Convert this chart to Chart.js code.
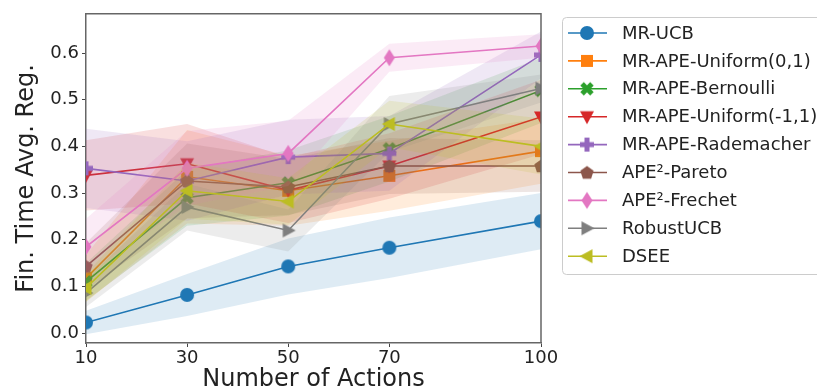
<!DOCTYPE html>
<html>
<head>
<meta charset="utf-8">
<script src="https://cdn.jsdelivr.net/npm/chart.js@4.4.0/dist/chart.umd.min.js"></script>
<style>
  body { margin: 0; background: #fff; }
  #wrap { width: 817px; height: 391px; }
</style>
</head>
<body>
<div id="wrap"><canvas id="chart" width="817" height="391"></canvas></div>
<script>
// x values (number of actions) and axis ticks
var actions = [10, 30, 50, 70, 100];
var yTicks = [0, 0.1, 0.2, 0.3, 0.4, 0.5, 0.6];

// mean finite time average regret, one array per method
var mrUcb        = [0.023, 0.082, 0.143, 0.183, 0.240];
var apeUniform01 = [0.118, 0.335, 0.305, 0.337, 0.390];
var apeBernoulli = [0.110, 0.290, 0.322, 0.395, 0.520];
var apeUniformM1 = [0.338, 0.363, 0.306, 0.358, 0.463];
var apeRademach  = [0.353, 0.326, 0.377, 0.385, 0.596];
var ape2Pareto   = [0.143, 0.326, 0.313, 0.358, 0.358];
var ape2Frechet  = [0.185, 0.353, 0.385, 0.590, 0.615];
var robustUcb    = [0.086, 0.270, 0.220, 0.448, 0.524];
var dsee         = [0.097, 0.305, 0.282, 0.448, 0.400];

// half width of the shaded band around each mean
var mrUcbErr        = [0.025, 0.045, 0.060, 0.065, 0.060];
var apeUniform01Err = [0.050, 0.100, 0.075, 0.075, 0.070];
var apeBernoulliErr = [0.040, 0.060, 0.070, 0.070, 0.070];
var apeUniformM1Err = [0.075, 0.085, 0.070, 0.070, 0.080];
var apeRademachErr  = [0.085, 0.085, 0.080, 0.080, 0.050];
var ape2ParetoErr   = [0.050, 0.080, 0.060, 0.060, 0.055];
var ape2FrechetErr  = [0.060, 0.080, 0.070, 0.030, 0.025];
var robustUcbErr    = [0.030, 0.050, 0.045, 0.060, 0.030];
var dseeErr         = [0.030, 0.060, 0.050, 0.050, 0.060];

var names = ['MR-UCB', 'MR-APE-Uniform(0,1)', 'MR-APE-Bernoulli', 'MR-APE-Uniform(-1,1)',
  'MR-APE-Rademacher', 'APE\u00b2-Pareto', 'APE\u00b2-Frechet', 'RobustUCB', 'DSEE'];
var means = [mrUcb, apeUniform01, apeBernoulli, apeUniformM1, apeRademach, ape2Pareto, ape2Frechet, robustUcb, dsee];
var errs = [mrUcbErr, apeUniform01Err, apeBernoulliErr, apeUniformM1Err, apeRademachErr, ape2ParetoErr, ape2FrechetErr, robustUcbErr, dseeErr];
var colors = ['#1f77b4', '#ff7f0e', '#2ca02c', '#d62728', '#9467bd', '#8c564b', '#e377c2', '#7f7f7f', '#bcbd22'];
var markers = ['circle', 'square', 'xfilled', 'tridown', 'plusfilled', 'pentagon', 'thindiamond', 'triright', 'trileft'];

var FONT = '"DejaVu Sans", sans-serif';

function rgba(hex, a) {
  var r = parseInt(hex.substr(1, 2), 16), g = parseInt(hex.substr(3, 2), 16), b = parseInt(hex.substr(5, 2), 16);
  return 'rgba(' + r + ',' + g + ',' + b + ',' + a + ')';
}

// marker shapes drawn on small canvases, used as pointStyle
function polyPoints(kind) {
  var p = [], i, a, h;
  if (kind == 'square') return [[-6, -6], [6, -6], [6, 6], [-6, 6]];
  if (kind == 'tridown') return [[-7, -5.5], [7, -5.5], [0, 7.5]];
  if (kind == 'triright') return [[7.5, 0], [-5.5, -7], [-5.5, 7]];
  if (kind == 'trileft') return [[-7.5, 0], [5.5, -7], [5.5, 7]];
  if (kind == 'thindiamond') return [[0, -8.5], [5.5, 0], [0, 8.5], [-5.5, 0]];
  if (kind == 'pentagon') {
    for (i = 0; i < 5; i++) {
      a = -Math.PI / 2 + i * 2 * Math.PI / 5;
      p.push([7 * Math.cos(a), 7 * Math.sin(a) + 0.5]);
    }
    return p;
  }
  if (kind == 'plusfilled' || kind == 'xfilled') {
    h = 7; a = 2.5;
    p = [[a, h], [a, a], [h, a], [h, -a], [a, -a], [a, -h], [-a, -h], [-a, -a], [-h, -a], [-h, a], [-a, a], [-a, h]];
    if (kind == 'xfilled') {
      p = p.map(function (q) {
        var c = Math.cos(Math.PI / 4), s = Math.sin(Math.PI / 4);
        return [q[0] * c - q[1] * s, q[0] * s + q[1] * c];
      });
    }
    return p;
  }
  return null;
}

function makeMarker(kind, color) {
  var c = document.createElement('canvas');
  c.width = 20; c.height = 20;
  var ctx = c.getContext('2d');
  ctx.translate(10, 10);
  ctx.fillStyle = color;
  ctx.beginPath();
  if (kind == 'circle') {
    ctx.arc(0, 0, 7, 0, Math.PI * 2);
  } else {
    var pts = polyPoints(kind);
    ctx.moveTo(pts[0][0], pts[0][1]);
    for (var i = 1; i < pts.length; i++) ctx.lineTo(pts[i][0], pts[i][1]);
    ctx.closePath();
  }
  ctx.fill();
  return c;
}

var markerImgs = markers.map(function (m, i) { return makeMarker(m, colors[i]); });

// build datasets: upper band, lower band (filled to upper), then the line
var datasets = [];
means.forEach(function (mean, i) {
  var upper = actions.map(function (x, j) { return { x: x, y: mean[j] + errs[i][j] }; });
  var lower = actions.map(function (x, j) { return { x: x, y: mean[j] - errs[i][j] }; });
  var base = 100 - i * 3;
  datasets.push({ data: upper, borderWidth: 0, pointRadius: 0, fill: false, order: base + 2, clip: 0 });
  datasets.push({ data: lower, borderWidth: 0, pointRadius: 0, fill: '-1', backgroundColor: rgba(colors[i], 0.15), order: base + 1, clip: 0 });
  datasets.push({
    label: names[i],
    data: actions.map(function (x, j) { return { x: x, y: mean[j] }; }),
    borderColor: colors[i], borderWidth: 1.6, fill: false,
    pointStyle: markerImgs[i], pointRadius: 7, order: base, clip: 0
  });
});

// custom legend, matplotlib-like with line + marker
var legendPlugin = {
  id: 'sideLegend',
  afterDraw: function (chart) {
    var ctx = chart.ctx;
    ctx.save();
    ctx.fillStyle = 'rgba(255,255,255,0.9)';
    ctx.strokeStyle = '#cccccc';
    ctx.lineWidth = 1;
    ctx.beginPath();
    ctx.roundRect(562.5, 17.5, 270, 257, 4);
    ctx.fill();
    ctx.stroke();
    ctx.font = '18px ' + FONT;
    ctx.textBaseline = 'middle';
    names.forEach(function (n, i) {
      var y = 33 + i * 27.9;
      ctx.strokeStyle = colors[i];
      ctx.lineWidth = 1.6;
      ctx.beginPath();
      ctx.moveTo(568, y);
      ctx.lineTo(607, y);
      ctx.stroke();
      ctx.drawImage(markerImgs[i], 587 - 10, y - 10);
      ctx.fillStyle = '#222';
      ctx.fillText(n, 622, y + 1);
    });
    ctx.restore();
  }
};

// top and right spines
var framePlugin = {
  id: 'frame',
  afterDatasetsDraw: function (chart) {
    var a = chart.chartArea, ctx = chart.ctx;
    ctx.save();
    ctx.strokeStyle = '#666';
    ctx.lineWidth = 1.5;
    ctx.beginPath();
    ctx.moveTo(a.left, a.top);
    ctx.lineTo(a.right, a.top);
    ctx.lineTo(a.right, a.bottom);
    ctx.stroke();
    ctx.restore();
  }
};

new Chart(document.getElementById('chart'), {
  type: 'line',
  data: { datasets: datasets },
  plugins: [legendPlugin, framePlugin],
  options: {
    responsive: false,
    animation: false,
    layout: { padding: { top: 8, right: 276, left: 0, bottom: 0 } },
    plugins: { legend: { display: false }, tooltip: { enabled: false } },
    scales: {
      x: {
        type: 'linear', min: 10, max: 100,
        afterBuildTicks: function (s) { s.ticks = actions.map(function (v) { return { value: v }; }); },
        afterFit: function (s) { s.height = 48; },
        grid: { drawOnChartArea: false, drawTicks: true, tickLength: 4, tickColor: '#444' },
        border: { color: '#666', width: 1.5 },
        ticks: { font: { family: FONT, size: 18 }, color: '#222', padding: 1, maxRotation: 0 },
        title: { display: true, text: 'Number of Actions', font: { family: FONT, size: 24 }, color: '#222', padding: { top: 0, bottom: -3 } }
      },
      y: {
        min: -0.021, max: 0.684,
        afterBuildTicks: function (s) { s.ticks = yTicks.map(function (v) { return { value: v }; }); },
        afterFit: function (s) { s.width = 86; },
        grid: { drawOnChartArea: false, drawTicks: true, tickLength: 4, tickColor: '#444' },
        border: { color: '#666', width: 1.5 },
        ticks: { font: { family: FONT, size: 18 }, color: '#222', padding: 3, callback: function (v) { return v.toFixed(1); } },
        title: { display: true, text: 'Fin. Time Avg. Reg.', font: { family: FONT, size: 24 }, color: '#222', padding: { top: 12, bottom: 0 } }
      }
    }
  }
});
</script>
</body>
</html>
